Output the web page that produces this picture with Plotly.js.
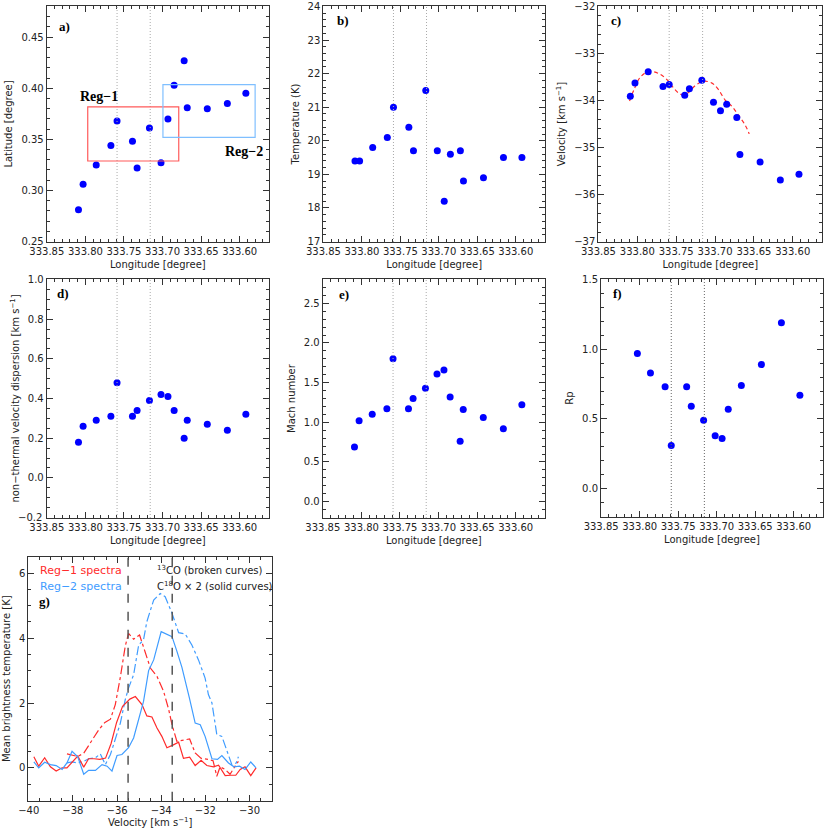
<!DOCTYPE html>
<html>
<head>
<meta charset="utf-8">
<script src="https://cdn.plot.ly/plotly-3.0.1.min.js"></script>
<style>
  html,body{margin:0;padding:0;background:#fff;}
  #chart{width:830px;height:830px;}
</style>
</head>
<body>
<div id="chart"></div>
<script>
// Longitudes of the 16 positions along the filament (degree)
const lon   = [333.809,333.803,333.786,333.767,333.759,333.739,333.733,333.717,333.702,333.693,333.685,333.672,333.668,333.642,333.616,333.592];
const lat   = [0.281,0.306,0.325,0.344,0.368,0.348,0.322,0.361,0.327,0.370,0.403,0.427,0.381,0.380,0.385,0.395];
const temp  = [19.4,19.4,19.8,20.1,21.0,20.4,19.7,21.5,19.7,18.2,19.6,19.7,18.8,18.9,19.5,19.5];
const vlsr  = [-33.91,-33.63,-33.39,-33.70,-33.66,-33.89,-33.75,-33.57,-34.04,-34.22,-34.08,-34.36,-35.15,-35.31,-35.69,-35.57];
const sigNT = [0.18,0.26,0.29,0.31,0.48,0.31,0.34,0.39,0.42,0.41,0.34,0.20,0.29,0.27,0.24,0.32];
const mach  = [0.69,1.02,1.10,1.17,1.80,1.17,1.30,1.43,1.61,1.66,1.32,0.76,1.16,1.06,0.92,1.22];
const rp    = [null,0.97,0.83,0.73,0.31,0.73,0.59,0.49,0.38,0.36,0.57,null,0.74,0.89,1.19,0.67];

// velocity gradient fit (panel c)
const fitLon = [333.810,333.804,333.796,333.785,333.772,333.761,333.752,333.744,333.735,333.726,333.715,333.704,333.696,333.687,333.678,333.670,333.661,333.656];
const fitVel = [-34.01,-33.76,-33.50,-33.38,-33.43,-33.57,-33.76,-33.87,-33.84,-33.69,-33.59,-33.63,-33.76,-33.99,-34.13,-34.31,-34.53,-34.71];

// dotted marker longitudes
const markLon = [333.759, 333.716];

// regions in panel a: [lonLeft, lonRight, latBottom, latTop]
const reg1Box = [333.797, 333.679, 0.3288, 0.3817];
const reg2Box = [333.6995, 333.580, 0.352, 0.4035];

// tick labels
const lonTicks  = [333.85,333.80,333.75,333.70,333.65,333.60];
const latTicks  = [0.25,0.30,0.35,0.40,0.45];
const tempTicks = [17,18,19,20,21,22,23,24];
const velTicks  = [-37,-36,-35,-34,-33,-32];
const sigTicks  = [-0.2,0.0,0.2,0.4,0.6,0.8,1.0];
const sigText   = ['','0.0','0.2','0.4','0.6','0.8','1.0'];
const sigLowLabel = '−0.2';
const machTicks = [0.0,0.5,1.0,1.5,2.0,2.5];
const rpTicks   = [0.0,0.5,1.0,1.5];
const specXTicks = [-40,-38,-36,-34,-32,-30];
const specYTicks = [0,2,4,6];

// spectra (panel g)
const vR1s = [-39.77,-39.55,-39.28,-39.02,-38.76,-38.49,-38.27,-38.04,-37.78,-37.51,-37.29,-37.04,-36.78,-36.52,-36.27,-36.02,-35.75,-35.42,-35.17,-34.87,-34.65,-34.42,-34.19,-33.97,-33.74,-33.47,-33.21,-32.99,-32.71,-32.46,-32.19,-31.93,-31.63,-31.40,-31.10,-30.85,-30.62,-30.42,-30.20,-29.94,-29.70];
const tR1s = [0.34,0.05,0.31,0.03,-0.10,0.00,0.00,0.17,0.36,0.02,0.28,0.28,0.26,0.30,0.75,1.40,1.90,2.12,2.20,1.95,1.60,1.57,1.23,0.97,0.62,0.70,0.79,0.29,0.33,0.07,0.23,0.07,0.03,0.08,-0.24,-0.23,-0.23,-0.05,0.03,-0.24,0.00];
const vR2s = [-39.77,-39.55,-39.28,-39.02,-38.76,-38.49,-38.27,-38.04,-37.78,-37.51,-37.29,-36.98,-36.68,-36.45,-36.23,-36.00,-35.78,-35.48,-35.25,-35.02,-34.80,-34.57,-34.34,-34.00,-33.51,-33.29,-33.06,-32.72,-32.46,-32.23,-32.01,-31.70,-31.45,-31.25,-30.95,-30.70,-30.45,-30.20,-29.94,-29.70];
const tR2s = [0.18,0.00,0.17,0.10,0.07,-0.05,0.15,0.51,0.34,-0.20,-0.08,-0.08,0.10,0.05,-0.10,0.38,0.41,0.62,0.92,1.50,2.05,3.00,3.33,4.20,4.05,3.60,3.10,2.15,1.38,1.33,0.97,0.28,0.26,0.38,0.15,0.03,0.05,-0.05,0.18,0.00];
const vR1b = [-38.27,-38.04,-37.78,-37.51,-37.29,-37.04,-36.80,-36.55,-36.30,-36.08,-35.85,-35.63,-35.48,-35.25,-34.98,-34.72,-34.49,-34.19,-33.89,-33.66,-33.51,-33.29,-33.05,-32.71,-32.46,-32.20,-31.86,-31.65,-31.48,-31.33,-31.10,-30.88,-30.65,-30.50];
const tR1b = [0.43,0.39,0.35,0.45,0.70,0.95,1.20,1.40,1.50,1.95,2.80,3.75,4.15,3.97,4.10,3.54,3.08,2.82,2.36,1.80,1.33,0.82,0.85,0.89,0.46,0.30,0.26,0.22,-0.26,0.03,-0.05,-0.20,0.05,0.20];
const vR2b = [-38.27,-38.04,-37.78,-37.51,-37.29,-36.98,-36.76,-36.53,-36.30,-36.08,-35.85,-35.63,-35.48,-35.25,-35.02,-34.80,-34.65,-34.34,-34.04,-33.82,-33.51,-33.21,-32.91,-32.61,-32.31,-32.01,-31.86,-31.70,-31.48,-31.25,-31.03,-30.80,-30.60,-30.50];
const tR2b = [0.15,0.18,0.15,0.20,0.28,0.31,0.43,0.10,0.41,0.87,1.38,2.10,2.46,2.87,3.79,3.95,4.51,5.18,5.38,5.28,4.77,4.17,4.13,3.79,3.33,2.77,2.26,2.00,1.03,0.97,0.51,0.10,0.15,0.34];
const specVLines = [-35.5, -33.5];

(function(){
  const FONT = 'DejaVu Sans, Verdana, sans-serif';
  const SERIF = 'Liberation Serif, Times New Roman, serif';
  const RED = '#ff2b2b', SKY = '#3f9cff', BLUE = '#0000ff';
  const W = 830;

  // pixel box -> domain
  const dx = (l,r)=> [l/W, r/W];
  const dy = (t,b)=> [1-b/W, 1-t/W];

  function ax(extra){
    return Object.assign({
      showline:true, mirror:'allticks', linecolor:'#333', linewidth:1,
      ticks:'inside', ticklen:6, tickcolor:'#333', showgrid:false, zeroline:false,
      ticklabeloverflow:'allow',
      tickfont:{family:FONT, size:10, color:'#222'}
    }, extra);
  }
  function lonAx(dom, yref){
    return ax({domain:dom, anchor:yref, range:[333.8502,333.562], tickmode:'array', tickvals:lonTicks,
      tickformat:'.2f', minor:{tickmode:'linear', dtick:0.01, tick0:333.60, ticks:'inside', ticklen:3, tickcolor:'#333'},
      title:{text:'Longitude [degree]', font:{family:FONT,size:10,color:'#222'}, standoff:4}});
  }
  function valAx(dom, xref, range, vals, mdt, fmt, title){
    const pad = (range[1]-range[0])*0.002;
    return ax({domain:dom, anchor:xref, range:[range[0]-pad, range[1]+pad], tickmode:'array', tickvals:vals, tickformat:fmt,
      minor:{tickmode:'linear', dtick:mdt, tick0:0, ticks:'inside', ticklen:3, tickcolor:'#333'},
      title:{text:title, font:{family:FONT,size:10,color:'#222'}, standoff:6}});
  }

  const pts = (x,y,xa,ya)=>({type:'scatter', mode:'markers', x:x, y:y, xaxis:xa, yaxis:ya,
    marker:{color:BLUE, size:7}, showlegend:false, hoverinfo:'x+y'});

  const traces = [
    pts(lon, lat, 'x', 'y'),
    pts(lon, temp, 'x2', 'y2'),
    {type:'scatter', mode:'lines', x:fitLon, y:fitVel, xaxis:'x3', yaxis:'y3', line:{color:RED, dash:'4px,3px', width:1.2, shape:'spline'}, showlegend:false},
    pts(lon, vlsr, 'x3', 'y3'),
    pts(lon, sigNT, 'x4', 'y4'),
    pts(lon, mach, 'x5', 'y5'),
    pts(lon, rp, 'x6', 'y6'),
    {type:'scatter', mode:'lines', x:vR1b, y:tR1b, xaxis:'x7', yaxis:'y7', line:{color:RED, dash:'dashdot', width:1.2}, showlegend:false},
    {type:'scatter', mode:'lines', x:vR2b, y:tR2b, xaxis:'x7', yaxis:'y7', line:{color:SKY, dash:'dashdot', width:1.2}, showlegend:false},
    {type:'scatter', mode:'lines', x:vR1s, y:tR1s, xaxis:'x7', yaxis:'y7', line:{color:RED, width:1.2}, showlegend:false},
    {type:'scatter', mode:'lines', x:vR2s, y:tR2s, xaxis:'x7', yaxis:'y7', line:{color:SKY, width:1.2}, showlegend:false}
  ];

  const rowTop = dy(6,242), rowMid = dy(279,518);
  const layout = {
    width:830, height:830, margin:{l:0,r:0,t:0,b:0},
    paper_bgcolor:'#fff', plot_bgcolor:'#fff', showlegend:false,
    xaxis:  lonAx(dx(46.7,269), 'y'),
    yaxis:  valAx(rowTop, 'x', [0.25,0.48], latTicks, 0.01, '.2f', 'Latitude [degree]'),
    xaxis2: lonAx(dx(323.3,545), 'y2'),
    yaxis2: valAx(rowTop, 'x2', [17,24], tempTicks, 0.2, 'd', 'Temperature (K)'),
    xaxis3: lonAx(dx(598.3,822.3), 'y3'),
    yaxis3: valAx(rowTop, 'x3', [-37,-32], velTicks, 0.2, 'd', 'Velocity [km s<sup>−1</sup>]'),
    xaxis4: lonAx(dx(46.7,269), 'y4'),
    yaxis4: valAx(rowMid, 'x4', [-0.2,1.0], sigTicks, 0.05, '.1f', 'non−thermal velocity dispersion [km s<sup>−1</sup>]'),
    xaxis5: lonAx(dx(322.7,545), 'y5'),
    yaxis5: valAx(rowMid, 'x5', [-0.2,2.8], machTicks, 0.1, '.1f', 'Mach number'),
    xaxis6: lonAx(dx(601,823), 'y6'),
    yaxis6: valAx(dy(279,517), 'x6', [-0.2,1.5], rpTicks, 0.1, '.1f', 'Rp'),
    xaxis7: valAx(dx(28.3,272), 'y7', [-40,-29], specXTicks, 0.5, 'd', 'Velocity [km s<sup>−1</sup>]'),
    yaxis7: valAx(dy(556.7,800.7), 'x7', [-1,6.5], specYTicks, 0.5, 'd', 'Mean brightness temperature [K]'),
    shapes: [], annotations: []
  };
  layout.xaxis7.title.standoff = 4;
  layout.yaxis4.ticktext = sigText;

  // bottom tick label of panel d (plotly drops it at the axis corner)
  layout.annotations.push({text:sigLowLabel, xref:'x4 domain', yref:'y4', x:-0.012, y:sigTicks[0],
    xanchor:'right', yanchor:'middle', showarrow:false, font:{family:FONT, size:10, color:'#222'}});

  // dotted longitude markers in panels a-f
  for(let i=1;i<=6;i++){
    const xr = i===1 ? 'x' : 'x'+i, yr = (i===1 ? 'y' : 'y'+i) + ' domain';
    markLon.forEach(L => layout.shapes.push({type:'line', xref:xr, yref:yr, x0:L, x1:L, y0:0, y1:1,
      line:{color: i===6 ? '#666' : '#aaa', width:1, dash:'1px,2px'}}));
  }
  // region boxes
  layout.shapes.push({type:'rect', xref:'x', yref:'y', x0:reg1Box[0], x1:reg1Box[1], y0:reg1Box[2], y1:reg1Box[3], line:{color:'#ff5a5a', width:1.2}});
  layout.shapes.push({type:'rect', xref:'x', yref:'y', x0:reg2Box[0], x1:reg2Box[1], y0:reg2Box[2], y1:reg2Box[3], line:{color:'#7fbfff', width:1.2}});
  // spectra velocity markers
  specVLines.forEach(v => layout.shapes.push({type:'line', xref:'x7', yref:'y7 domain', x0:v, x1:v, y0:0, y1:1,
    line:{color:'#555', width:1.5, dash:'dash'}}));

  // panel letters
  const letters = [['a)','x','y',0.048,0.912],['b)','x2','y2',0.053,0.938],['c)','x3','y3',0.049,0.938],
    ['d)','x4','y4',0.037,0.939],['e)','x5','y5',0.063,0.935],['f)','x6','y6',0.044,0.94],['g)','x7','y7',0.034,0.816]];
  letters.forEach(([t,xr,yr,x,y]) => layout.annotations.push({text:'<b>'+t+'</b>', xref:xr+' domain', yref:yr+' domain',
    x:x, y:y, xanchor:'left', yanchor:'middle', showarrow:false, font:{family:SERIF, size:13, color:'#000'}}));

  layout.annotations.push({text:'<b>Reg−1</b>', xref:'x', yref:'y', x:333.782, y:0.392, showarrow:false, font:{family:SERIF,size:14,color:'#000'}});
  layout.annotations.push({text:'<b>Reg−2</b>', xref:'x', yref:'y', x:333.594, y:0.3385, showarrow:false, font:{family:SERIF,size:14,color:'#000'}});

  // legend text for spectra
  const lt = (text,x,y,color,size)=>({text:text, xref:'paper', yref:'paper', x:x/W, y:1-y/W, xanchor:'left', yanchor:'middle',
    showarrow:false, font:{family:FONT, size:size, color:color}});
  layout.annotations.push(lt('Reg−1 spectra', 38, 570, RED, 11));
  layout.annotations.push(lt('Reg−2 spectra', 38, 586, SKY, 11));
  layout.annotations.push(lt('<sup>13</sup>CO (broken curves)', 155, 570, '#222', 10));
  layout.annotations.push(lt('C<sup>18</sup>O × 2 (solid curves)', 155, 586, '#222', 10));

  Plotly.newPlot('chart', traces, layout, {displayModeBar:false, staticPlot:true});
})();
</script>
</body>
</html>
